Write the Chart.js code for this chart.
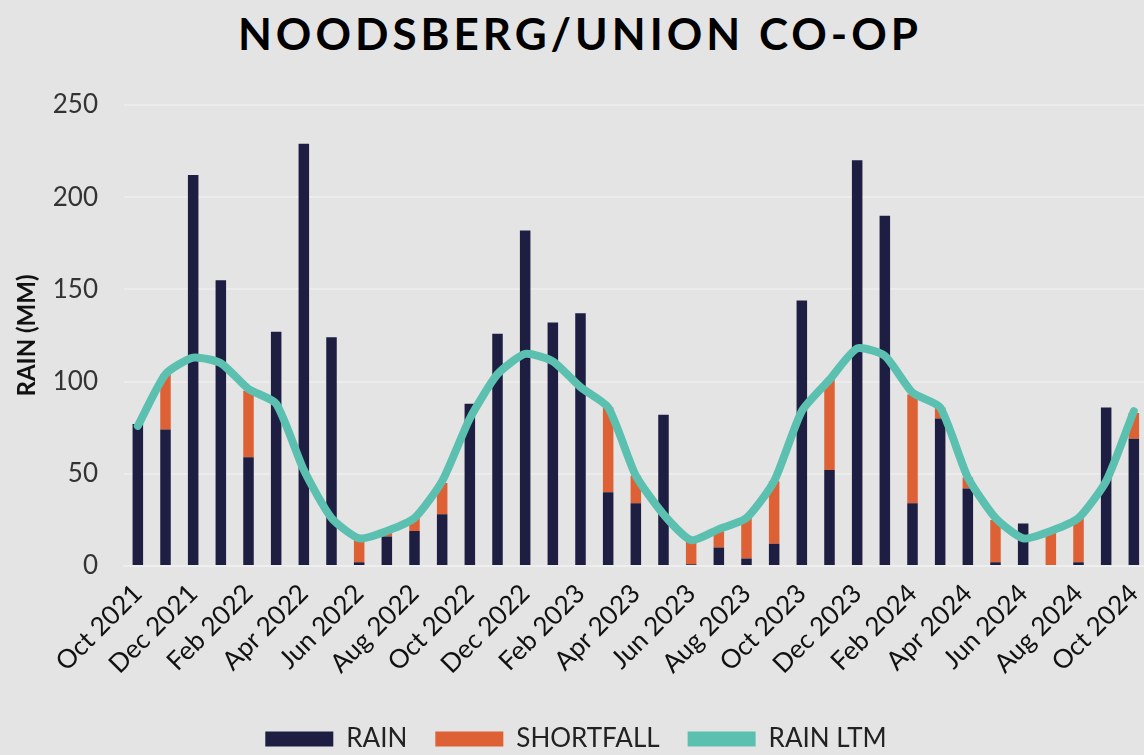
<!DOCTYPE html>
<html>
<head>
<meta charset="utf-8">
<script src="https://cdn.jsdelivr.net/npm/chart.js@4/dist/chart.umd.min.js"></script>
<style>
  html, body { margin: 0; padding: 0; background: #e4e4e4; overflow: hidden; }
  #title {
    position: absolute; left: 0; top: 11px; width: 1160px; text-align: center;
    font: bold 44px Lato, sans-serif; line-height: 44px; letter-spacing: 4px; color: #000;
  }
  #wrap { position: absolute; left: 0; top: 0; width: 1160px; height: 755px; }
</style>
</head>
<body>
<div id="title">NOODSBERG/UNION CO-OP</div>
<div id="wrap"><canvas id="c"></canvas></div>
<script>
// 月份（2021年10月 ~ 2024年10月）
const months = [
  'Oct 2021', 'Nov 2021', 'Dec 2021', 'Jan 2022', 'Feb 2022', 'Mar 2022', 'Apr 2022', 'May 2022',
  'Jun 2022', 'Jul 2022', 'Aug 2022', 'Sep 2022', 'Oct 2022', 'Nov 2022', 'Dec 2022', 'Jan 2023',
  'Feb 2023', 'Mar 2023', 'Apr 2023', 'May 2023', 'Jun 2023', 'Jul 2023', 'Aug 2023', 'Sep 2023',
  'Oct 2023', 'Nov 2023', 'Dec 2023', 'Jan 2024', 'Feb 2024', 'Mar 2024', 'Apr 2024', 'May 2024',
  'Jun 2024', 'Jul 2024', 'Aug 2024', 'Sep 2024', 'Oct 2024'
];

// 月降雨量 (mm)
const rain = [
  77, 74, 212, 155, 59, 127, 229, 124,
  2, 16, 19, 28, 88, 126, 182, 132,
  137, 40, 34, 82, 1, 10, 4, 12,
  144, 52, 220, 190, 34, 80, 42, 2,
  23, 0, 2, 86, 69
];

// 与长期均值的差额 (mm)
const shortfall = [
  0, 30, 0, 0, 36, 0, 0, 0,
  12, 2, 7, 17, 0, 0, 0, 0,
  0, 46, 15, 0, 13, 9, 22, 34,
  0, 49, 0, 0, 59, 6, 6, 23,
  0, 19, 24, 0, 14
];

// 长期平均降雨量 (mm)
const rainLtm = [
  76, 104, 113, 110, 96, 88, 52, 26,
  15, 19, 26, 46, 80, 104, 115, 111,
  97, 86, 49, 28, 14, 20, 26, 46,
  84, 101, 118, 114, 94, 86, 48, 26,
  15, 19, 26, 46, 84
];

const yTicks = [0, 50, 100, 150, 200, 250];

const NAVY = '#1d1e42';
const ORANGE = '#de6035';
const TEAL = '#5bc0b0';
const FONT = 'Lato, sans-serif';

new Chart(document.getElementById('c').getContext('2d'), {
  type: 'bar',
  data: {
    labels: months,
    datasets: [
      {
        label: 'RAIN',
        data: rain,
        backgroundColor: NAVY,
        barPercentage: 0.38,
        categoryPercentage: 1,
        stack: 'r',
        order: 1
      },
      {
        label: 'SHORTFALL',
        data: shortfall,
        backgroundColor: ORANGE,
        barPercentage: 0.38,
        categoryPercentage: 1,
        stack: 'r',
        order: 1
      },
      {
        type: 'line',
        label: 'RAIN LTM',
        data: rainLtm,
        borderColor: TEAL,
        backgroundColor: TEAL,
        borderWidth: 8,
        pointRadius: 0,
        tension: 0.2,
        borderCapStyle: 'round',
        borderJoinStyle: 'round',
        stack: 'ltm',
        order: 0
      }
    ]
  },
  options: {
    responsive: true,
    maintainAspectRatio: false,
    animation: false,
    layout: { padding: { top: 105, left: 0, right: 8, bottom: 0 } },
    plugins: {
      tooltip: { enabled: false },
      legend: {
        position: 'bottom',
        maxHeight: 57, // 图例项间距大，但高度截短，让图例贴近底边
        labels: {
          boxWidth: 68,
          boxHeight: 15,
          padding: 28,
          color: '#222',
          font: { family: FONT, size: 26 },
          sort: (a, b) => a.datasetIndex - b.datasetIndex,
          generateLabels: (chart) => chart.data.datasets.map((ds, i) => ({
            text: ds.label,
            fillStyle: ds.backgroundColor,
            strokeStyle: ds.backgroundColor,
            lineWidth: 0,
            datasetIndex: i,
            fontColor: '#222'
          }))
        }
      }
    },
    scales: {
      x: {
        stacked: true,
        grid: { display: false },
        border: { display: true, color: '#eeeeee', width: 2 },
        ticks: {
          autoSkip: false,
          maxRotation: 45,
          minRotation: 45,
          padding: 4,
          color: '#111',
          font: { family: FONT, size: 26 },
          callback: (v, i) => (i % 2 === 0 ? months[i] : '')
        },
        afterFit: (s) => { s.height = 132; }
      },
      y: {
        stacked: true,
        min: 0,
        max: 250,
        afterBuildTicks: (s) => { s.ticks = yTicks.map(v => ({ value: v })); },
        grid: { color: '#ececec', lineWidth: 2, drawTicks: false },
        border: { display: false },
        ticks: {
          padding: 26,
          color: '#333',
          font: { family: FONT, size: 26 }
        },
        title: {
          display: true,
          text: 'RAIN (MM)',
          color: '#111',
          font: { family: FONT, size: 24, weight: 'bold' },
          padding: { top: 13, bottom: 0 }
        },
        afterFit: (s) => { s.width = 124; }
      }
    }
  }
});
</script>
</body>
</html>
